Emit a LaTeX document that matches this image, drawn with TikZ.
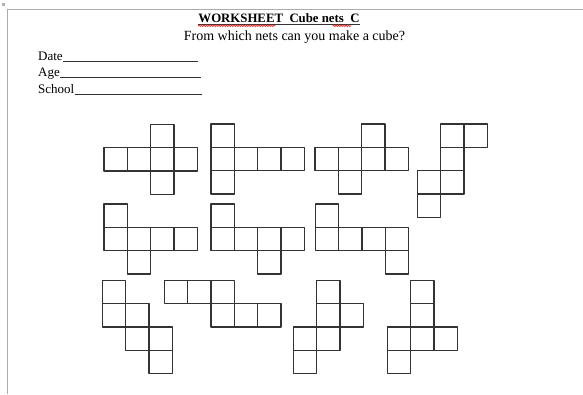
\documentclass[tikz,border=0pt]{standalone}
\usepackage{fontspec}
\setmainfont{Liberation Serif}
\usetikzlibrary{decorations.pathmorphing}
\newcommand\cellsz{23.3}
\newcommand\cubenet[3]{\foreach \cc/\rr in {#3}{\draw[cell] ({#1+\cc*\cellsz},{#2+\rr*\cellsz}) rectangle ++(\cellsz,\cellsz);}}
\begin{document}
\begin{tikzpicture}[x=1pt,y=-1pt,
  cell/.style={draw=black!80,line width=1.25pt,line join=round},
  frame/.style={draw=black!33,line width=1.4pt},
  lbl/.style={inner sep=0pt,anchor=base west,font=\fontsize{13}{15}\selectfont},
  uline/.style={draw=black!80,line width=0.7pt},
  squig/.style={draw=red!85,line width=0.7pt,decorate,decoration={snake,amplitude=0.8pt,segment length=2.5pt}}]
\useasboundingbox[fill=white] (0,0) rectangle (583,394);
% page frame
\draw[frame] (583,9.5) -- (7.5,9.5) -- (7.5,394);
\fill[black!30] (2,3) rectangle (5,6);
% titles
\node[inner sep=0pt,anchor=base,font=\bfseries\fontsize{12.8}{15}\selectfont] (title) at (279,22) {WORKSHEET\ \ Cube nets\ \ C};
\draw[uline,line width=0.8pt] ([yshift=-2pt]title.base west) -- ([yshift=-2pt]title.base east);
\draw[squig] ([yshift=-3.8pt]title.base west) -- ++(77,0);
\draw[squig] ([xshift=-27pt,yshift=-3.8pt]title.base east) -- ([xshift=-9pt,yshift=-3.8pt]title.base east);
\node[inner sep=0pt,anchor=base,font=\fontsize{14}{16}\selectfont] (sub) at (294.5,40) {From which nets can you make a cube?};
% form fields
\node[lbl] (date) at (38,60) {Date};
\node[lbl] (age) at (38,76.5) {Age};
\node[lbl] (school) at (38,93) {School};
\coordinate (dateend) at (198,61);
\coordinate (ageend) at (201,77.5);
\coordinate (schoolend) at (202,94);
\draw[uline] (date.base east) ++(0,1) -- (dateend);
\draw[uline] (age.base east) ++(0,1) -- (ageend);
\draw[uline] (school.base east) ++(0,1) -- (schoolend);
% nets, row 1
\cubenet{104}{124.5}{2/0,0/1,1/1,2/1,3/1,2/2}
\cubenet{211}{124}{0/0,0/1,1/1,2/1,3/1,0/2}
\cubenet{315}{124}{2/0,0/1,1/1,2/1,3/1,1/2}
\cubenet{417.5}{124}{1/0,2/0,1/1,0/2,1/2,0/3}
% row 2
\cubenet{104}{204}{0/0,0/1,1/1,2/1,3/1,1/2}
\cubenet{211}{204}{0/0,0/1,1/1,2/1,3/1,2/2}
\cubenet{315.5}{204}{0/0,0/1,1/1,2/1,3/1,3/2}
% row 3
\cubenet{102.5}{280.5}{0/0,0/1,1/1,1/2,2/2,2/3}
\cubenet{164.5}{280.5}{0/0,1/0,2/0,2/1,3/1,4/1}
\cubenet{293.5}{280.5}{1/0,1/1,2/1,0/2,1/2,0/3}
\cubenet{387.5}{280.5}{1/0,1/1,0/2,1/2,2/2,0/3}
\end{tikzpicture}
\end{document}
